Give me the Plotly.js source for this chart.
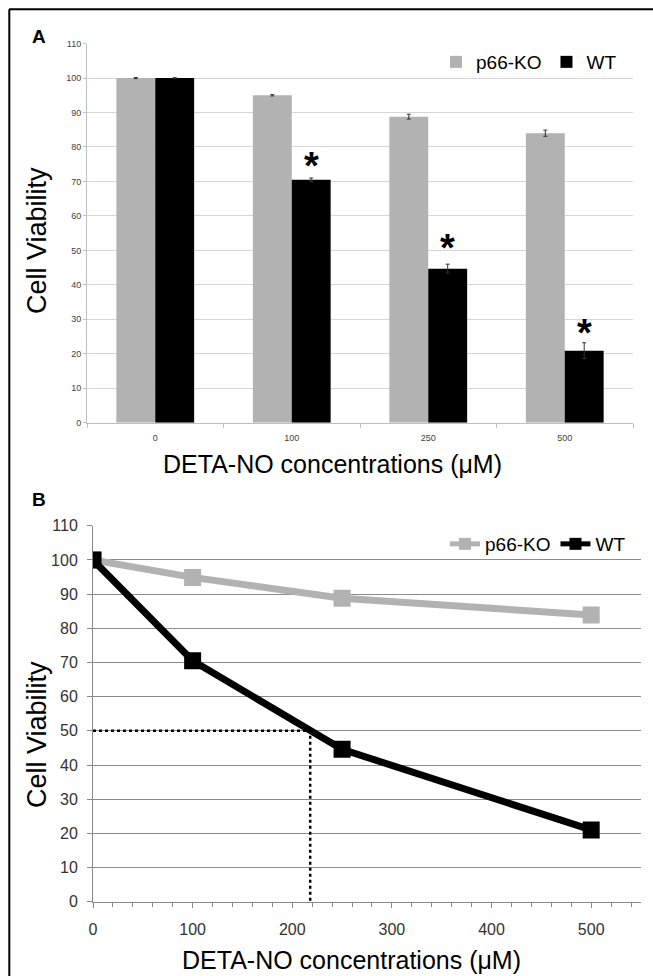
<!DOCTYPE html>
<html>
<head>
<meta charset="utf-8">
<script src="https://cdn.plot.ly/plotly-3.0.1.min.js"></script>
<style>
  html, body { margin: 0; padding: 0; background: #fff; }
  #chart { width: 653px; height: 976px; }
</style>
</head>
<body>
<div id="chart"></div>
<script>
// ---------- Panel A data (bar chart) ----------
const categoriesA = ['0', '100', '250', '500'];
const p66A = [100, 95, 88.8, 84.0];
const p66AErr = [0.15, 0.2, 0.7, 0.9];
const wtA = [100, 70.5, 44.7, 20.9];
const wtAErr = [0.1, 0.5, 1.3, 2.3];
const starCats = ['100', '250', '500'];
const starY = [76, 52, 27.5];
const yTicksA = [0, 10, 20, 30, 40, 50, 60, 70, 80, 90, 100, 110];

// ---------- Panel B data (line chart) ----------
const concB = [0, 100, 250, 500];
const p66B = [100, 94.9, 88.8, 83.9];
const wtB = [100, 70.5, 44.6, 21.0];
const ic50X = [0, 218, 218];
const ic50Y = [50, 50, 0];

const seriesNames = ['p66-KO', 'WT'];
const xTitle = 'DETA-NO concentrations (\u03bcM)';
const yTitle = 'Cell Viability';

const FONT = 'Liberation Sans, Arial, sans-serif';
const GRAY = '#b2b2b2';
const W = 653, H = 976;
const px = v => v / W;
const py = v => 1 - v / H;

const barOffset = 0.1425; // centre of the WT bar inside its group

const traces = [
  {
    type: 'bar', name: seriesNames[0], x: categoriesA, y: p66A,
    marker: { color: GRAY },
    error_y: { type: 'data', array: p66AErr, visible: true, color: '#333', thickness: 1, width: 2 },
    xaxis: 'x', yaxis: 'y', legend: 'legend'
  },
  {
    type: 'bar', name: seriesNames[1], x: categoriesA, y: wtA,
    marker: { color: '#000' },
    error_y: { type: 'data', array: wtAErr, visible: true, color: '#333', thickness: 1, width: 2 },
    xaxis: 'x', yaxis: 'y', legend: 'legend'
  },
  {
    type: 'scatter', mode: 'lines', x: ic50X, y: ic50Y, showlegend: false,
    line: { color: '#000', width: 2.5, dash: 'dot' },
    xaxis: 'x2', yaxis: 'y2', hoverinfo: 'skip'
  },
  {
    type: 'scatter', mode: 'lines+markers', name: seriesNames[0], x: concB, y: p66B,
    line: { color: GRAY, width: 7 },
    marker: { symbol: 'square', size: 17, color: GRAY },
    xaxis: 'x2', yaxis: 'y2', legend: 'legend2'
  },
  {
    type: 'scatter', mode: 'lines+markers', name: seriesNames[1], x: concB, y: wtB,
    line: { color: '#000', width: 7 },
    marker: { symbol: 'square', size: 17, color: '#000' },
    xaxis: 'x2', yaxis: 'y2', legend: 'legend2'
  }
];

const annotations = [
  { text: '<b>A</b>', xref: 'paper', yref: 'paper', x: px(38.5), y: py(37), xanchor: 'center', yanchor: 'middle', showarrow: false, font: { family: FONT, size: 19, color: '#000' } },
  { text: '<b>B</b>', xref: 'paper', yref: 'paper', x: px(38.5), y: py(500), xanchor: 'center', yanchor: 'middle', showarrow: false, font: { family: FONT, size: 19, color: '#000' } },
  { text: xTitle, xref: 'paper', yref: 'paper', x: px(332), y: py(464), xanchor: 'center', yanchor: 'middle', showarrow: false, font: { family: FONT, size: 25, color: '#000' } },
  { text: xTitle, xref: 'paper', yref: 'paper', x: px(351), y: py(960), xanchor: 'center', yanchor: 'middle', showarrow: false, font: { family: FONT, size: 25, color: '#000' } },
  { text: yTitle, xref: 'paper', yref: 'paper', x: px(37), y: py(241), xanchor: 'center', yanchor: 'middle', textangle: -90, showarrow: false, font: { family: FONT, size: 27, color: '#000' } },
  { text: yTitle, xref: 'paper', yref: 'paper', x: px(37), y: py(735), xanchor: 'center', yanchor: 'middle', textangle: -90, showarrow: false, font: { family: FONT, size: 27, color: '#000' } }
];
starCats.forEach((c, i) => {
  annotations.push({
    text: '<b>*</b>', xref: 'x', yref: 'y', x: categoriesA.indexOf(c) + barOffset, y: starY[i],
    xanchor: 'center', yanchor: 'middle', yshift: -5, showarrow: false,
    font: { family: FONT, size: 38, color: '#000' }
  });
});

const layout = {
  width: W, height: H,
  margin: { l: 0, r: 0, t: 0, b: 0 },
  paper_bgcolor: '#fff', plot_bgcolor: '#fff',
  font: { family: FONT, color: '#000' },
  barmode: 'group', bargap: 0.43, bargroupgap: 0,
  xaxis: {
    domain: [px(87), px(633)], anchor: 'y', type: 'category',
    categoryorder: 'array', categoryarray: categoriesA,
    showline: true, linecolor: '#bfbfbf', linewidth: 1,
    ticks: 'outside', tickson: 'boundaries', ticklen: 4, tickcolor: '#bfbfbf',
    tickfont: { family: FONT, size: 9, color: '#404040' }, ticklabelstandoff: 6,
    showgrid: false, zeroline: false
  },
  yaxis: {
    domain: [py(422.7), py(43.6)], anchor: 'x', range: [0, 110],
    tickvals: yTicksA, ticks: 'outside', ticklen: 3, tickcolor: '#bfbfbf',
    showline: true, linecolor: '#bfbfbf', linewidth: 1,
    showgrid: true, gridcolor: '#d6d6d6', gridwidth: 1, zeroline: false,
    tickfont: { family: FONT, size: 9, color: '#404040' }
  },
  xaxis2: {
    domain: [px(93), px(641)], anchor: 'y2', range: [0, 550],
    dtick: 100, tick0: 0, ticks: 'outside', ticklen: 5, tickcolor: '#888',
    minor: { dtick: 20, ticks: 'outside', ticklen: 4, tickcolor: '#888', showgrid: false },
    showline: true, linecolor: '#888', linewidth: 1,
    showgrid: false, zeroline: false,
    tickfont: { family: FONT, size: 16, color: '#333' }, ticklabelstandoff: 8
  },
  yaxis2: {
    domain: [py(901.7), py(525.8)], anchor: 'x2', range: [0, 110],
    dtick: 10, tick0: 0, ticks: 'outside', ticklen: 5, tickcolor: '#888',
    showline: true, linecolor: '#888', linewidth: 1,
    showgrid: true, gridcolor: '#8c8c8c', gridwidth: 1, zeroline: false,
    tickfont: { family: FONT, size: 16, color: '#333' }, ticklabelstandoff: 6
  },
  legend: {
    orientation: 'h', x: px(436), y: py(43), xanchor: 'left', yanchor: 'top',
    bgcolor: 'rgba(0,0,0,0)', font: { family: FONT, size: 19, color: '#000' },
    traceorder: 'normal'
  },
  legend2: {
    orientation: 'h', x: px(445), y: py(525), xanchor: 'left', yanchor: 'top',
    bgcolor: 'rgba(0,0,0,0)', font: { family: FONT, size: 19, color: '#000' },
    itemsizing: 'constant', traceorder: 'normal'
  },
  annotations: annotations,
  shapes: [
    { type: 'line', xref: 'paper', yref: 'paper', x0: px(9), x1: 1.05, y0: py(9.3), y1: py(9.3), line: { color: '#000', width: 2 } },
    { type: 'line', xref: 'paper', yref: 'paper', x0: px(9.3), x1: px(9.3), y0: py(9.3), y1: -0.05, line: { color: '#000', width: 2 } }
  ],
  showlegend: true
};

Plotly.newPlot('chart', traces, layout, { displayModeBar: false, staticPlot: true });
</script>
</body>
</html>
